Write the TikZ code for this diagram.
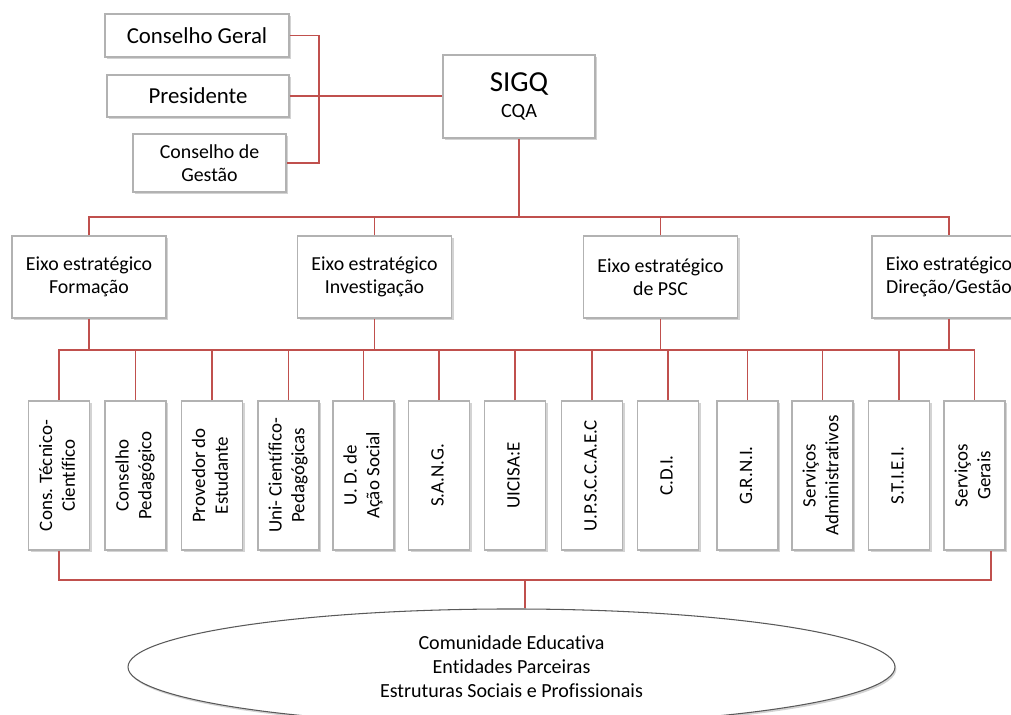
\documentclass[tikz,border=0pt]{standalone}
\usepackage{fontspec}
\setmainfont{Carlito}[RawFeature={-liga;-clig;-calt;-dlig}]
\usepackage{graphicx}
\usepackage{tikz}
\usetikzlibrary{
  shapes.geometric,
  shadows,
  calc
}
\usepackage{xcolor}
\definecolor{linkred}{HTML}{C0504D}
\newcommand{\unitlabel}[1]{\rotatebox{90}{\begin{tabular}{@{}c@{}}#1\end{tabular}}}
\tikzset{
  org box/.style={
    draw=gray!60, fill=white, line width=0.6pt,
    align=center, inner sep=2pt,
    drop shadow={shadow xshift=1.2pt, shadow yshift=-1.2pt, opacity=0.35}
  },
  top box/.style={
    org box, font=\fontsize{13}{15.6}\selectfont
  },
  axis box/.style={
    org box, minimum width=3.08cm, minimum height=1.64cm,
    font=\fontsize{11.3}{13.2}\selectfont
  },
  unit box/.style={
    org box, minimum width=1.22cm, minimum height=2.98cm,
    font=\fontsize{10.8}{13}\selectfont
  },
  link/.style={
    draw=linkred, line width=0.85pt
  },
  community/.style={
    ellipse, draw=gray!70!black, fill=white, line width=0.6pt,
    minimum width=15.34cm, minimum height=2.32cm, inner sep=0pt,
    align=center, font=\fontsize{11.4}{13.7}\selectfont,
    drop shadow={shadow xshift=0.8pt, shadow yshift=-1.2pt, opacity=0.35}
  },
}

\begin{document}
\begin{tikzpicture}
  \useasboundingbox (0, 0) rectangle (20.22, 14.3);

  % Governing bodies
  \node[top box, minimum width=3.68cm, minimum height=0.86cm] (cg) at (3.94, 13.59) {Conselho Geral};
  \node[top box, minimum width=3.64cm, minimum height=0.84cm] (pres) at (3.96, 12.38) {Presidente};
  \node[org box, font=\fontsize{11.3}{13.2}\selectfont,
    minimum width=3.06cm, minimum height=1.16cm] (cgest) at (4.19, 11.04) {Conselho de\\Gestão};
  \node[org box, minimum width=3.04cm, minimum height=1.66cm] (sigq) at (10.38, 12.37)
    {\fontsize{16.5}{20}\selectfont SIGQ\\[3pt]\fontsize{11.5}{14.8}\selectfont CQA};

  \coordinate (join) at (6.38, 12.38);
  \draw[link] (cg.east) -| (join |- cgest.east) -- (cgest.east);
  \draw[link] (pres.east) -- (pres.east -| sigq.west);

  % Strategic axes
  \node[axis box] (ax1) at (1.78, 8.76) {Eixo estratégico\\Formação};
  \node[axis box] (ax2) at (7.49, 8.76) {Eixo estratégico\\Investigação};
  \node[axis box] (ax3) at (13.21, 8.76) {Eixo estratégico\\de PSC};
  \node[axis box] (ax4) at (18.98, 8.76) {Eixo estratégico\\Direção/Gestão};

  \coordinate (upper bus) at (0, 9.96);
  \draw[link] (ax1.north) |- (upper bus -| ax4.north) -- (ax4.north);
  \draw[link] (sigq.south) -- (sigq.south |- upper bus);
  \draw[link] (ax2.north) -- (ax2.north |- upper bus);
  \draw[link] (ax3.north) -- (ax3.north |- upper bus);

  % Units and services
  \node[unit box] (u1) at (1.18, 4.79) {\unitlabel{Cons. Técnico-\\Científico}};
  \node[unit box] (u2) at (2.71, 4.79) {\unitlabel{Conselho\\Pedagógico}};
  \node[unit box] (u3) at (4.24, 4.79) {\unitlabel{Provedor do\\Estudante}};
  \node[unit box] (u4) at (5.77, 4.79) {\unitlabel{Uni- Científico-\\Pedagógicas}};
  \node[unit box] (u5) at (7.27, 4.79) {\unitlabel{U. D. de\\Ação Social}};
  \node[unit box] (u6) at (8.78, 4.79) {\unitlabel{S.A.N.G.}};
  \node[unit box] (u7) at (10.30, 4.79) {\unitlabel{UICISA:E}};
  \node[unit box] (u8) at (11.84, 4.79) {\unitlabel{U.P.S.C.C.A.E.C}};
  \node[unit box] (u9) at (13.36, 4.79) {\unitlabel{C.D.I.}};
  \node[unit box] (u10) at (14.95, 4.79) {\unitlabel{G.R.N.I.}};
  \node[unit box] (u11) at (16.45, 4.79) {\unitlabel{Serviços\\Administrativos}};
  \node[unit box] (u12) at (17.98, 4.79) {\unitlabel{S.T.I.E.I.}};
  \node[unit box] (u13) at (19.49, 4.79) {\unitlabel{Serviços\\Gerais}};

  \coordinate (lower bus) at (0, 7.30);
  \draw[link] (u1.north) |- (lower bus -| u13.north) -- (u13.north);
  \draw[link]
    (ax1.south) -- (ax1.south |- lower bus)
    (ax2.south) -- (ax2.south |- lower bus)
    (ax3.south) -- (ax3.south |- lower bus)
    (ax4.south) -- (ax4.south |- lower bus)
    (u2.north) -- (u2.north |- lower bus)
    (u3.north) -- (u3.north |- lower bus)
    (u4.north) -- (u4.north |- lower bus)
    (u5.north) -- (u5.north |- lower bus)
    (u6.north) -- (u6.north |- lower bus)
    (u7.north) -- (u7.north |- lower bus)
    (u8.north) -- (u8.north |- lower bus)
    (u9.north) -- (u9.north |- lower bus)
    (u10.north) -- (u10.north |- lower bus)
    (u11.north) -- (u11.north |- lower bus)
    (u12.north) -- (u12.north |- lower bus);

  % Community
  \node[community] (comm) at (10.23, 0.96)
    {Comunidade Educativa\\Entidades Parceiras\\Estruturas Sociais e Profissionais};

  \coordinate (base bus) at (0, 2.70);
  \coordinate (right foot) at (19.82, 0);
  \coordinate (comm drop) at (10.50, 2.70);
  \draw[link] (u1.south) |- (base bus -| right foot) -- (right foot |- u13.south);
  \draw[link] (comm drop) -- (comm drop |- comm.north);

\end{tikzpicture}
\end{document}
